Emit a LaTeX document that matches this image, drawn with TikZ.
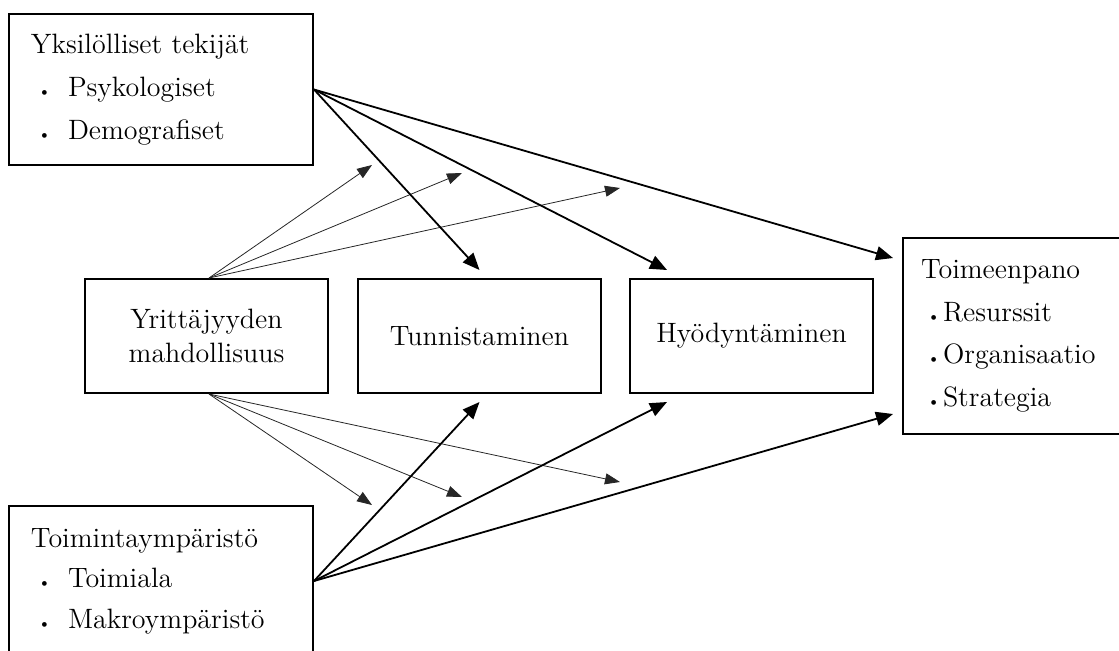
\documentclass[tikz,border=0pt]{standalone}
\usetikzlibrary{arrows.meta}

% small list bullet and the two list indents
\newcommand\smbul{{\fontsize{8}{8}\selectfont\textbullet}}
\newcommand\leftitem[1]{\makebox[18.5pt][l]{\hspace*{3.5pt}\smbul}#1}
\newcommand\rightitem[1]{\makebox[11pt][l]{\hspace*{3pt}\smbul}#1}

\tikzset{
  box/.style={draw, line width=1pt, inner ysep=0pt},
  listbox/.style={box, anchor=north west, align=left},
  stagebox/.style={box, anchor=north west, minimum width=121.5pt,
    minimum height=57pt, align=center},
  moderator/.style={line width=0.4pt, draw=black!85,
    -{Triangle[length=7.5pt,width=5.5pt]}},
  influence/.style={line width=0.9pt,
    -{Triangle[length=8.5pt,width=7pt]}},
}

\begin{document}
\begin{tikzpicture}[x=0.5pt, y=-0.5pt, font=\fontsize{14}{21.5}\selectfont]
\useasboundingbox (0,0) rectangle (1119,650);
\clip (0,0) rectangle (1119,650);

% factor boxes
\node[listbox, inner xsep=11pt, text width=130pt, minimum height=75.5pt]
  (yks) at (8,13)
  {Yksilölliset tekijät\\ \leftitem{Psykologiset}\\ \leftitem{Demografiset}};
\node[listbox, inner xsep=11pt, text width=130pt, minimum height=75pt,
  font=\fontsize{14}{20.25}\selectfont]
  (ymp) at (8,505)
  {Toimintaympäristö\\ \leftitem{Toimiala}\\ \leftitem{Makroympäristö}};

% process stages
\node[stagebox, font=\fontsize{14}{17}\selectfont] (yri) at (84,278)
  {Yrittäjyyden\\ mahdollisuus};
\node[stagebox] (tun) at (357,278) {Tunnistaminen};
\node[stagebox] (hyo) at (629,278) {Hyödyntäminen};
\node[listbox, inner xsep=9pt, text width=101pt, minimum height=98pt,
  font=\fontsize{14}{21.3}\selectfont]
  (toe) at (902,237)
  {Toimeenpano\\ \rightitem{Resurssit}\\ \rightitem{Organisaatio}\\ \rightitem{Strategia}};

% free ends of the moderating arrows
\coordinate (m1) at (372,165);
\coordinate (m2) at (462,173);
\coordinate (m3) at (620,188);
\coordinate (n1) at (372,505);
\coordinate (n2) at (462,497);
\coordinate (n3) at (620,482);

\foreach \t in {m1,m2,m3}
  \draw[moderator] ([xshift=1.25pt]yri.north) -- (\t);
\foreach \t in {n1,n2,n3}
  \draw[moderator] ([xshift=1.25pt]yri.south) -- (\t);

% influences of the individual factors
\draw[influence] (yks.east) -- ([yshift=4pt]tun.north);
\draw[influence] (yks.east) -- ([xshift=19pt,yshift=4pt]hyo.north west);
\draw[influence] (yks.east) -- ([xshift=-4.5pt,yshift=-10.5pt]toe.north west);

% influences of the environment
\draw[influence] (ymp.east) -- ([yshift=-4pt]tun.south);
\draw[influence] (ymp.east) -- ([xshift=19pt,yshift=-4pt]hyo.south west);
\draw[influence] (ymp.east) -- ([xshift=-4.5pt,yshift=10.5pt]toe.south west);
\end{tikzpicture}
\end{document}
